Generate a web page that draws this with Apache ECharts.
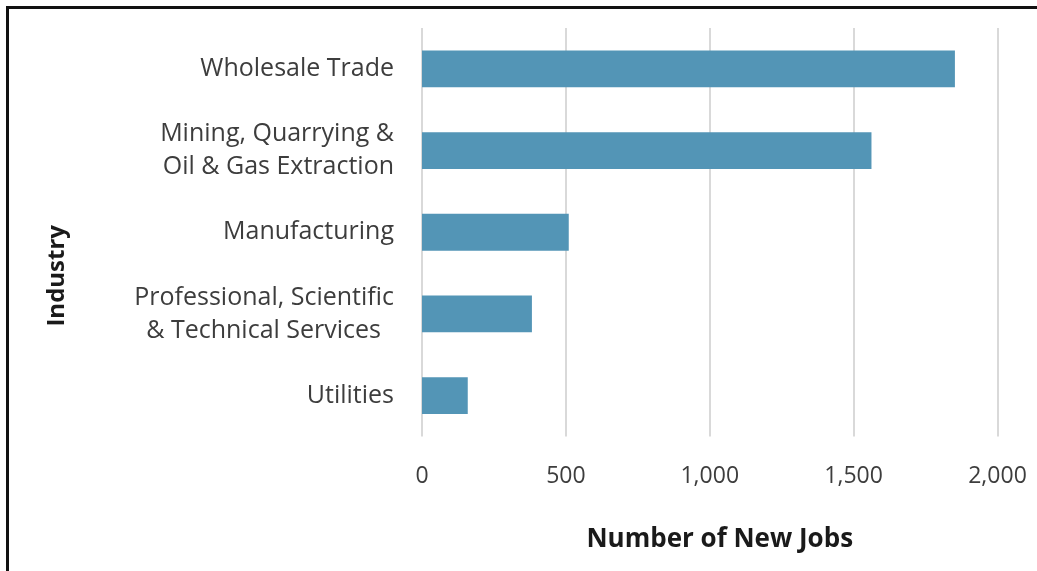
<!DOCTYPE html>
<html>
<head>
<meta charset="utf-8">
<script src="https://cdn.jsdelivr.net/npm/echarts@6/dist/echarts.min.js"></script>
<style>
  html, body { margin: 0; padding: 0; background: #fff; }
  #chart { position: absolute; left: 0; top: 0; width: 1037px; height: 571px; }
  #frame { position: absolute; left: 6px; top: 6px; width: 1100px; height: 700px;
           border-left: 3px solid #111; border-top: 3px solid #111; pointer-events: none; }
</style>
</head>
<body>
<div id="chart"></div>
<div id="frame"></div>
<script>
// Industries, listed top to bottom
const industries = [
  'Wholesale Trade',
  'Mining, Quarrying &\nOil & Gas Extraction',
  'Manufacturing',
  'Professional, Scientific\n& Technical Services  ',
  'Utilities'
];
// New jobs per industry
const newJobs = [1852, 1562, 510, 382, 159];
// Value axis ticks
const jobTicks = [0, 500, 1000, 1500, 2000];

const FONT = '"Open Sans", "Noto Sans", sans-serif';
const chart = echarts.init(document.getElementById('chart'), null, { renderer: 'canvas' });

chart.setOption({
  animation: false,
  backgroundColor: '#ffffff',
  grid: { left: 422, right: 39.5, top: 28, bottom: 134.5, containLabel: false },
  xAxis: {
    type: 'value',
    min: jobTicks[0],
    max: jobTicks[jobTicks.length - 1],
    interval: jobTicks[1] - jobTicks[0],
    axisLine: { show: false },
    axisTick: { show: false },
    splitLine: { show: true, lineStyle: { color: '#d9d9d9', width: 2 } },
    axisLabel: {
      margin: 28,
      fontFamily: FONT,
      fontSize: 23,
      color: '#3d3d3d',
      formatter: v => v.toLocaleString('en-US')
    },
    name: 'Number of New Jobs',
    nameLocation: 'middle',
    nameGap: 90,
    nameTextStyle: { fontFamily: FONT, fontSize: 26, fontWeight: 'bold', color: '#1a1a1a', padding: [0, 0, 0, 20] }
  },
  yAxis: {
    type: 'category',
    data: industries,
    inverse: true,
    axisLine: { show: false },
    axisTick: { show: false },
    splitLine: { show: false },
    axisLabel: {
      margin: 28,
      fontFamily: FONT,
      fontSize: 25,
      lineHeight: 33,
      color: '#3d3d3d',
      align: 'right'
    }
  },
  graphic: [{
    type: 'text',
    left: 45,
    top: 225,
    rotation: Math.PI / 2,
    style: {
      text: 'Industry',
      fontFamily: FONT,
      fontSize: 24,
      fontWeight: 'bold',
      fill: '#1a1a1a'
    }
  }],
  series: [{
    type: 'bar',
    data: newJobs,
    barWidth: '45%',
    itemStyle: { color: '#5395b6' }
  }]
});
</script>
</body>
</html>
